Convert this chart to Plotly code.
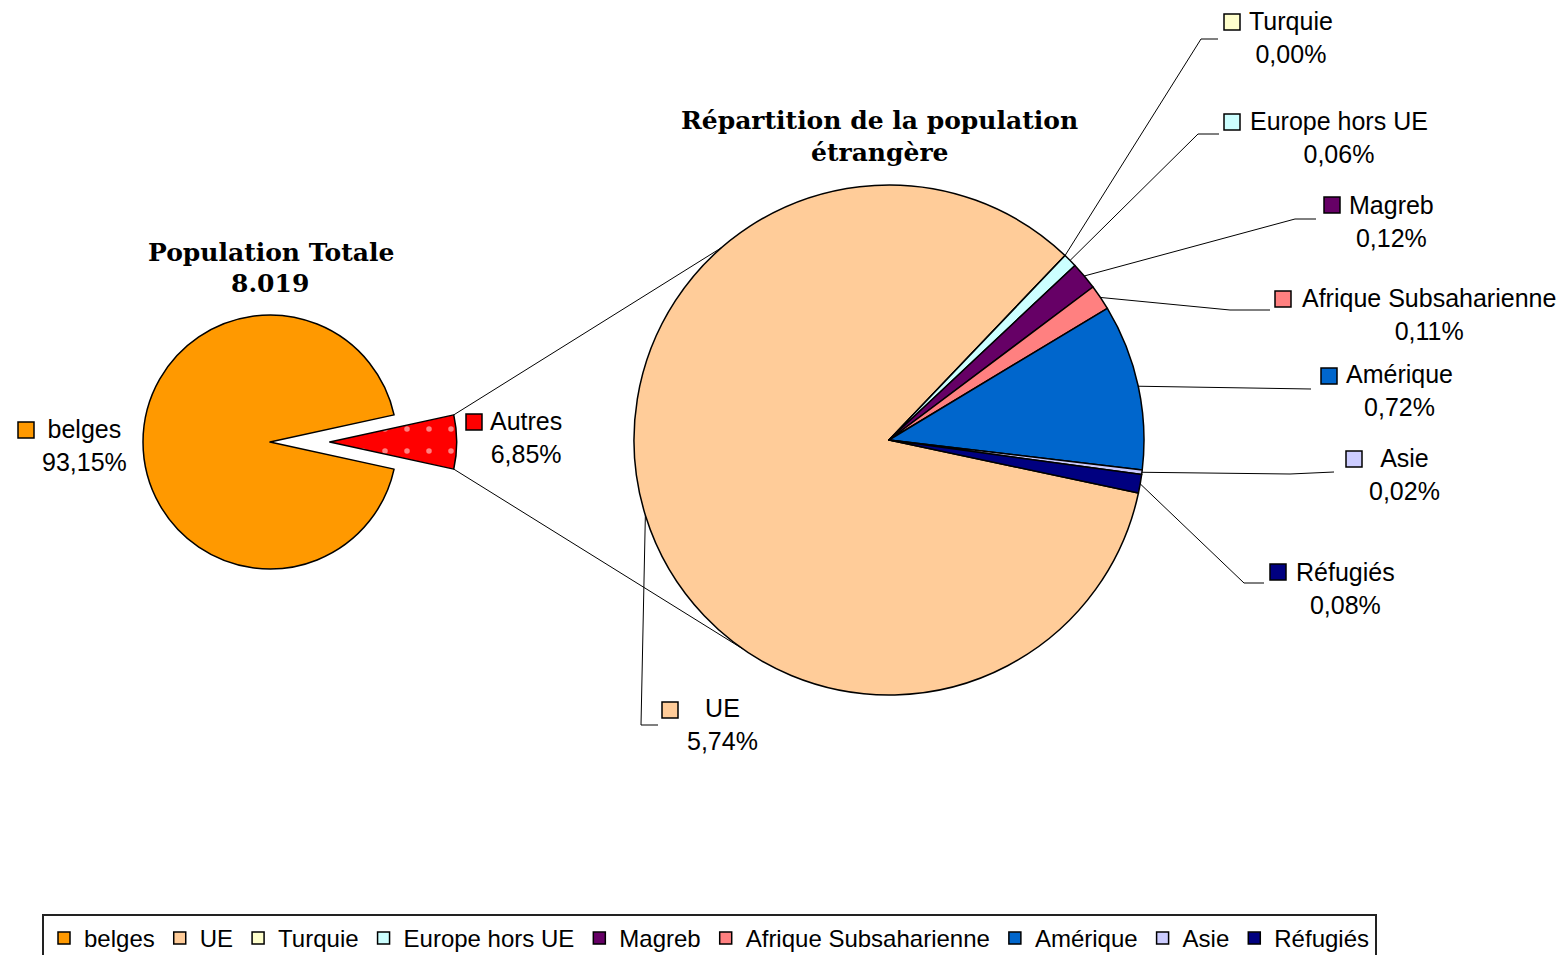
import math
import plotly.graph_objects as go

W, H = 1564, 955

# ---------------- data ----------------
total_labels = ["belges", "Autres"]
total_values = [93.15, 6.85]
total_colors = ["#FF9900", "#FF0000"]

foreign_labels = ["UE", "Turquie", "Europe hors UE", "Magreb",
                  "Afrique Subsaharienne", "Amérique", "Asie", "Réfugiés"]
foreign_values = [5.74, 0.00, 0.06, 0.12, 0.11, 0.72, 0.02, 0.08]
foreign_colors = ["#FFCC99", "#FFFFCC", "#CCFFFF", "#660066",
                  "#FF8080", "#0066CC", "#CCCCFF", "#000080"]

title_left = ["Population Totale", "8.019"]
title_right = ["Répartition de la population", "étrangère"]

# ---------------- layout geometry (pixels) ----------------
L_CX, L_CY, L_R, L_PULL = 270, 442, 127, 0.47
R_CX, R_CY, R_R = 889, 440, 255
R_ROT = 102

def X(x):
    return x / W

def Y(y):
    return 1 - y / H

def pct(v):
    return f"{v:.2f}".replace(".", ",") + "%"

def edge(cx, cy, r, ang):
    a = math.radians(ang)
    return cx + r * math.sin(a), cy - r * math.cos(a)

autres_deg = 360 * total_values[1] / sum(total_values)
L_ROT = 90 + autres_deg / 2

half_l = L_R * (1 + L_PULL)
dom_left = dict(x=[X(L_CX - half_l), X(L_CX + half_l)],
                y=[Y(L_CY + half_l), Y(L_CY - half_l)])
dom_right = dict(x=[X(R_CX - R_R), X(R_CX + R_R)],
                 y=[Y(R_CY + R_R), Y(R_CY - R_R)])

line_style = dict(color="black", width=1.5)

fig = go.Figure()

# legend-only helper for "belges" (hidden under the left pie)
fig.add_trace(go.Pie(
    labels=[total_labels[0]], values=[total_values[0]],
    marker=dict(colors=[total_colors[0]], line=line_style),
    domain=dict(x=[X(200), X(201)], y=[Y(443), Y(442)]),
    textinfo="none", hoverinfo="skip", sort=False, showlegend=True,
))

fig.add_trace(go.Pie(
    labels=total_labels, values=total_values,
    marker=dict(colors=total_colors, line=line_style,
                pattern=dict(shape=["", "."], fillmode="overlay",
                             fgcolor="white", size=22, solidity=0.05)),
    pull=[0, L_PULL], rotation=L_ROT, direction="clockwise", sort=False,
    domain=dom_left, textinfo="none", showlegend=False,
))

fig.add_trace(go.Pie(
    labels=foreign_labels, values=foreign_values,
    marker=dict(colors=foreign_colors, line=line_style),
    rotation=R_ROT, direction="clockwise", sort=False,
    domain=dom_right, textinfo="none", showlegend=True,
))

shapes = []
annotations = []

# connector lines between pies
pull_dx = L_PULL * L_R
for a_left, a_right in [(90 - autres_deg / 2, 319), (90 + autres_deg / 2, 215)]:
    x0, y0 = edge(L_CX + pull_dx, L_CY, L_R, a_left)
    x1, y1 = edge(R_CX, R_CY, R_R, a_right)
    shapes.append(dict(type="line", xref="paper", yref="paper",
                       x0=X(x0), y0=Y(y0), x1=X(x1), y1=Y(y1),
                       line=dict(color="black", width=1)))

# mid angles of the right pie slices
tot_f = sum(foreign_values)
mids = []
a = R_ROT
for v in foreign_values:
    d = 360 * v / tot_f
    mids.append(a + d / 2)
    a += d

# label placement: name center x, line1 y, square center, leader bend, leader end
label_pos = {
    "UE": dict(cx=722, y1=709, sq=(670, 710), bend=(641, 725), end=(658, 725)),
    "Turquie": dict(cx=1291, y1=22, sq=(1232, 22), bend=(1201, 39), end=(1218, 39)),
    "Europe hors UE": dict(cx=1339, y1=122, sq=(1232, 122), bend=(1198, 134), end=(1219, 134)),
    "Magreb": dict(cx=1391, y1=206, sq=(1332, 205), bend=(1295, 219), end=(1316, 219)),
    "Afrique Subsaharienne": dict(cx=1429, y1=299, sq=(1283, 299), bend=(1230, 310), end=(1270, 310)),
    "Amérique": dict(cx=1399, y1=376, sq=(1329, 376), bend=(1311, 389), end=(1311, 389)),
    "Asie": dict(cx=1404, y1=459, sq=(1354, 459), bend=(1290, 474), end=(1334, 472)),
    "Réfugiés": dict(cx=1345, y1=573, sq=(1278, 572), bend=(1244, 583), end=(1264, 583)),
}
left_pos = {
    "belges": dict(cx=84, y1=430, sq=(26, 430)),
    "Autres": dict(cx=526, y1=422, sq=(474, 422)),
}

FONT = "Liberation Sans, Arial, sans-serif"
FS = 25
SQ = 8

def add_label(name, value, color, p):
    annotations.append(dict(
        xref="paper", yref="paper", x=X(p["cx"]), y=Y(p["y1"] + 15),
        xanchor="center", yanchor="middle", align="center", showarrow=False,
        text=f"{name}<br>{pct(value)}",
        font=dict(family=FONT, size=FS, color="black"),
    ))
    sx, sy = p["sq"]
    shapes.append(dict(type="rect", xref="paper", yref="paper",
                       x0=X(sx - SQ), x1=X(sx + SQ), y0=Y(sy + SQ), y1=Y(sy - SQ),
                       fillcolor=color, line=dict(color="black", width=1.5)))

for name, value, color, m in zip(foreign_labels, foreign_values, foreign_colors, mids):
    p = label_pos[name]
    add_label(name, value, color, p)
    sx, sy = edge(R_CX, R_CY, R_R, m)
    bx, by = p["bend"]
    ex, ey = p["end"]
    shapes.append(dict(type="path", xref="paper", yref="paper",
                       path=f"M {X(sx)} {Y(sy)} L {X(bx)} {Y(by)} L {X(ex)} {Y(ey)}",
                       line=dict(color="black", width=1)))

for name, value, color in zip(total_labels, total_values, total_colors):
    add_label(name, value, color, left_pos[name])

# titles
TFONT = dict(family="DejaVu Serif, serif", size=25, color="black")
for txt, x, y in [(title_left[0], 271, 252), (title_left[1], 270, 283),
                  (title_right[0], 879, 120), (title_right[1], 879, 152)]:
    annotations.append(dict(xref="paper", yref="paper", x=X(x), y=Y(y),
                            xanchor="center", yanchor="middle", showarrow=False,
                            text=f"<b>{txt}</b>", font=TFONT))

fig.update_layout(
    width=W, height=H,
    margin=dict(l=0, r=0, t=0, b=0, autoexpand=False),
    paper_bgcolor="white", plot_bgcolor="white",
    shapes=shapes, annotations=annotations,
    legend=dict(orientation="h", x=X(42), y=Y(914), xanchor="left", yanchor="top",
                bordercolor="#222222", borderwidth=2, bgcolor="white",
                font=dict(family=FONT, size=24, color="black"),
                traceorder="normal"),
)

fig.write_html("out.html", config={"displayModeBar": False},
               post_script="document.body.style.margin='0';document.body.style.overflow='hidden';")
